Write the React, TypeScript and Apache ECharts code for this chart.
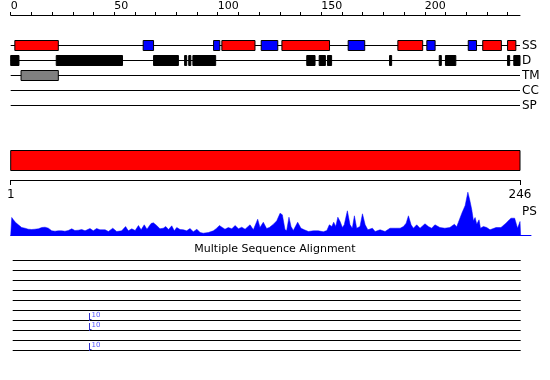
import React, { useEffect, useRef } from 'react';
import * as echarts from 'echarts';

const SEQ_LENGTH = 246;
const trackRows = ['SS', 'D', 'TM', 'CC', 'SP'];
const topTicks = [0, 10, 20, 30, 40, 50, 60, 70, 80, 90, 100, 110, 120, 130, 140, 150, 160, 170, 180, 190, 200, 210, 220, 230, 240];
const topTickLabels = [0, 50, 100, 150, 200];
const domainTicks = [1, 246];

// [start, end] in residues
const helices = [[2, 23], [102, 118], [131, 154], [187, 199], [228, 237], [240, 244]];
const strands = [[64, 69], [98, 101], [121, 129], [163, 171], [201, 205], [221, 225]];
const disorder = [[0, 4], [22, 54], [69, 81], [84, 85], [86, 87], [88, 99], [143, 147], [149, 152], [153, 155], [183, 184], [207, 208], [210, 215], [240, 241], [243, 246]];
const transmembrane = [[5, 23]];
const domains = [[1, 246]];

// [residue, score]
const psProfile = [[0, 0], [0.5, 18], [1.3, 15.7], [2.4, 13], [3.7, 10.7], [5.3, 8], [6.9, 7.3], [8.5, 6.3], [10.1, 6], [11.7, 6.3], [13.4, 6.7], [15, 8], [16.6, 8.3], [18.2, 7.3], [19.8, 4.7], [21.4, 4.3], [23, 4.7], [24.6, 4.7], [26.2, 4.3], [27.8, 5], [29.5, 6.7], [31, 5], [32.7, 5.3], [34.3, 6], [35.9, 4.7], [38.3, 7], [39.9, 4.7], [41.5, 7], [43.1, 5.7], [45.6, 5.7], [47.2, 4], [49.3, 7.3], [51.2, 4], [53.6, 4.7], [55.5, 9], [56.8, 4.7], [58.5, 6.7], [60.1, 5], [61.7, 10], [63, 5.7], [64.5, 10.7], [65.8, 6.3], [67.8, 12], [68.9, 12.7], [70.5, 10], [72.1, 6.7], [73.7, 7.3], [74.9, 9], [76.2, 6], [77.8, 9.7], [79, 4.7], [80.2, 8], [81.8, 6], [83.4, 5.7], [85, 4.7], [86.6, 7], [88.2, 3.7], [89.9, 6.3], [91.5, 3], [93, 2.3], [95.5, 3], [97.9, 4.7], [99.5, 7.3], [100.8, 10], [102.2, 8], [103.5, 6.3], [105.1, 8], [106.8, 6.7], [108.4, 10], [110, 6.7], [111.6, 8.3], [113.2, 6.3], [115.6, 10.7], [117.2, 5.7], [119.3, 16.3], [120.4, 8], [122, 13.3], [123.6, 7], [124.9, 8], [126.9, 11.3], [128.5, 14.7], [130.1, 22.3], [131.2, 20.7], [132.5, 5.7], [133.3, 5], [134.4, 18.3], [135.4, 9], [136.5, 5], [138.6, 13.3], [140.2, 7.3], [141.8, 5.7], [143.8, 4], [146.2, 4.7], [148.6, 4.7], [151, 3.7], [152.7, 5], [153.9, 10.7], [155.1, 9], [156, 13.3], [157, 9], [158, 18.3], [159.1, 14], [160.2, 8], [161.1, 10.7], [162.6, 24.7], [163.9, 10.7], [165, 7.3], [166, 19.7], [167.1, 7.3], [168.7, 9], [169.9, 21.7], [171.2, 10.7], [172.5, 5.7], [174.7, 7.3], [176, 4], [178.4, 5.7], [180.8, 4], [183.2, 7.3], [185.7, 7.3], [188.1, 7.3], [189.7, 9], [191, 12.3], [192.1, 19.7], [193.4, 10.7], [194.5, 7.3], [196.1, 10.7], [197.7, 7.3], [200.1, 11.7], [201.7, 9], [203.3, 7.3], [204.9, 10.7], [207.3, 8], [209.7, 7.3], [212.1, 8], [214.3, 11.3], [215.4, 8.7], [216.2, 13], [217.9, 22.3], [219.5, 30], [220.8, 43.3], [221.7, 35.7], [222.7, 25.7], [223.5, 14.7], [224.3, 18], [225.1, 11.3], [226.2, 15.7], [226.9, 7.3], [228.3, 9], [229.9, 8], [231.5, 5.7], [234.4, 8], [236.8, 8], [239.2, 12.3], [241.6, 17.3], [243.4, 17.3], [244.8, 7.3], [246, 14], [246.3, 0]];

const msaRows = ['s1', 's2', 's3', 's4', 's5', 's6', 's7', 's8', 's9', 's10'];
// [residue, row index, label]
const msaMarkers = [[38, 6, '10'], [38, 7, '10'], [38, 9, '10']];

const FONT = 'DejaVu Sans';

function boxSeries(name: string, ranges: number[][], row: number, color: string, xi: number, yi: number, half: number) {
  return {
    type: 'custom',
    name,
    xAxisIndex: xi,
    yAxisIndex: yi,
    data: ranges.map(([s, e]) => [s, e, row]),
    encode: { x: [0, 1], y: 2 },
    renderItem: (_p: any, api: any) => {
      const a = api.coord([api.value(0), api.value(2)]);
      const b = api.coord([api.value(1), api.value(2)]);
      const cy = Math.round(a[1]);
      return {
        type: 'rect',
        shape: { x: a[0], y: cy - half + 0.5, width: b[0] - a[0], height: half * 2 },
        style: { fill: color, stroke: '#000', lineWidth: 1 },
      };
    },
  };
}

export default function App() {
  const ref = useRef<HTMLDivElement>(null);
  useEffect(() => {
    if (!ref.current) return;
    const chart = echarts.init(ref.current, null, { renderer: 'svg' });
    const option: any = {
      animation: false,
      title: {
        text: 'Multiple Sequence Alignment',
        left: 'center',
        top: 243,
        padding: 0,
        textStyle: { fontSize: 11, fontWeight: 'normal', color: '#000', fontFamily: FONT },
      },
      grid: [
        { left: 10.7, top: 45, width: 509.3, height: 60 },
        { left: 10.7, top: 150, width: 509.3, height: 30 },
        { left: 10.7, top: 190, width: 520.3, height: 45.5 },
        { left: 12.7, top: 260, width: 508, height: 90 },
      ],
      xAxis: [
        {
          gridIndex: 0, type: 'value', position: 'top', offset: 30, min: 0, max: SEQ_LENGTH,
          axisLine: { show: true, lineStyle: { color: '#000', width: 1 } },
          axisTick: { show: true, customValues: topTicks, length: 3, lineStyle: { color: '#000' } },
          axisLabel: { show: true, customValues: topTickLabels, align: 'left', margin: 4, fontSize: 11, color: '#000', fontFamily: FONT },
          splitLine: { show: false },
        },
        {
          gridIndex: 1, type: 'value', position: 'bottom', min: 1, max: SEQ_LENGTH,
          axisLine: { show: true, lineStyle: { color: '#000', width: 1 } },
          axisTick: { show: true, customValues: domainTicks, length: 5, lineStyle: { color: '#000' } },
          axisLabel: { show: true, customValues: domainTicks, margin: 8, fontSize: 12, color: '#000', fontFamily: FONT },
          splitLine: { show: false },
        },
        {
          gridIndex: 2, type: 'value', min: 0, max: 251.3,
          axisLine: { show: true, lineStyle: { color: '#0000ff', width: 1 } },
          axisTick: { show: false }, axisLabel: { show: false }, splitLine: { show: false },
        },
        {
          gridIndex: 3, type: 'value', min: 1, max: SEQ_LENGTH, show: false,
        },
      ],
      yAxis: [
        {
          gridIndex: 0, type: 'category', data: trackRows, inverse: true, boundaryGap: false, position: 'right',
          axisLine: { show: false }, axisTick: { show: false },
          axisLabel: { show: true, interval: 0, margin: 2, fontSize: 12, color: '#000', fontFamily: FONT },
          splitLine: { show: true, interval: 0, lineStyle: { color: '#000', width: 1 } },
        },
        { gridIndex: 1, type: 'value', min: 0, max: 3, show: false },
        { gridIndex: 2, type: 'value', min: 0, max: 45.5, show: false },
        {
          gridIndex: 3, type: 'category', data: msaRows, inverse: true, boundaryGap: false,
          axisLine: { show: false }, axisTick: { show: false }, axisLabel: { show: false },
          splitLine: { show: true, interval: 0, lineStyle: { color: '#000', width: 1 } },
        },
      ],
      graphic: [
        { type: 'text', left: 522, top: 205, style: { text: 'PS', fontSize: 12, fill: '#000', fontFamily: FONT } },
      ],
      series: [
        boxSeries('helix', helices, 0, '#ff0000', 0, 0, 5),
        boxSeries('strand', strands, 0, '#0000ff', 0, 0, 5),
        boxSeries('disorder', disorder, 1, '#000000', 0, 0, 5),
        boxSeries('transmembrane', transmembrane, 2, '#808080', 0, 0, 5),
        {
          type: 'custom',
          name: 'domain',
          xAxisIndex: 1,
          yAxisIndex: 1,
          data: domains.map(([s, e]) => [s, e]),
          encode: { x: [0, 1] },
          renderItem: (_p: any, api: any) => {
            const a = api.coord([api.value(0), 3]);
            const b = api.coord([api.value(1), 1]);
            return {
              type: 'rect',
              shape: { x: a[0], y: Math.round(a[1]) + 0.5, width: b[0] - a[0], height: Math.round(b[1] - a[1]) },
              style: { fill: '#ff0000', stroke: '#000', lineWidth: 1 },
            };
          },
        },
        {
          type: 'line',
          name: 'PS',
          xAxisIndex: 2,
          yAxisIndex: 2,
          data: psProfile,
          symbol: 'none',
          lineStyle: { color: '#0000ff', width: 0.5 },
          areaStyle: { color: '#0000ff', opacity: 1 },
        },
        {
          type: 'custom',
          name: 'msa',
          xAxisIndex: 3,
          yAxisIndex: 3,
          data: msaMarkers,
          encode: { x: 0, y: 1 },
          renderItem: (_p: any, api: any) => {
            const p = api.coord([api.value(0), api.value(1)]);
            const x = Math.round(p[0]) + 0.5;
            const y = Math.round(p[1]);
            return {
              type: 'group',
              children: [
                { type: 'line', shape: { x1: x, y1: y - 7, x2: x, y2: y + 1 }, style: { stroke: '#3333cc', lineWidth: 1 } },
                { type: 'line', shape: { x1: x, y1: y - 0.5, x2: x + 2, y2: y - 0.5 }, style: { stroke: '#3333cc', lineWidth: 1 } },
                { type: 'text', x: x + 2, y: y - 5, style: { text: String(api.value(2)), fontSize: 7, fill: '#5555ff', fontFamily: FONT, verticalAlign: 'middle' } },
              ],
            };
          },
        },
      ],
    };
    chart.setOption(option);
    return () => chart.dispose();
  }, []);
  return <div ref={ref} style={{ position: 'fixed', left: 0, top: 0, width: 550, height: 380 }} />;
}
